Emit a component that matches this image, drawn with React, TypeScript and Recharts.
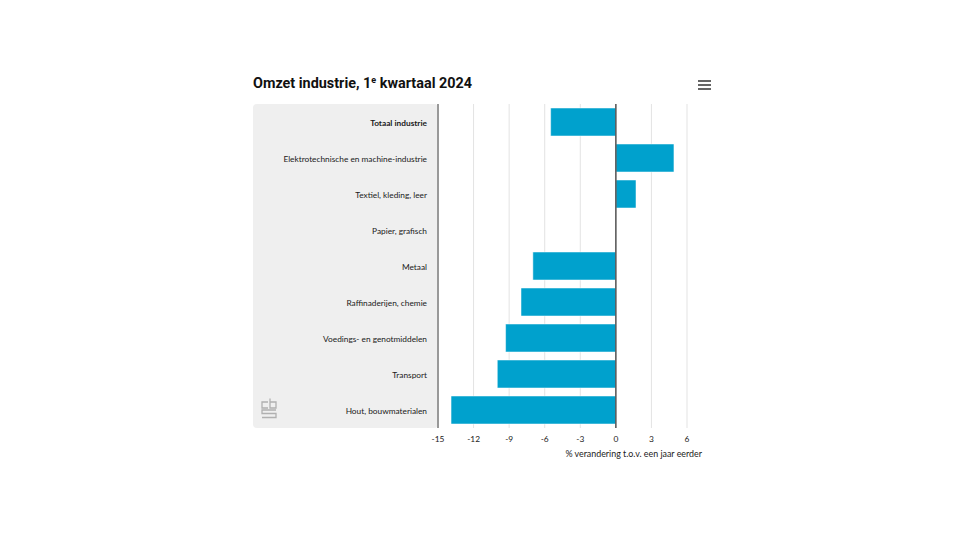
import React from "react";
import { BarChart, Bar, XAxis, YAxis, CartesianGrid, ReferenceLine } from "recharts";

const categories = [
  "Totaal industrie",
  "Elektrotechnische en machine-industrie",
  "Textiel, kleding, leer",
  "Papier, grafisch",
  "Metaal",
  "Raffinaderijen, chemie",
  "Voedings- en genotmiddelen",
  "Transport",
  "Hout, bouwmaterialen",
];
const values = [-5.5, 4.9, 1.7, 0.0, -7.0, -8.0, -9.3, -10.0, -13.9];
const xTicks = [-15, -12, -9, -6, -3, 0, 3, 6];
const title = "Omzet industrie, 1";
const titleSup = "e";
const titleRest = " kwartaal 2024";
const xLabel = "% verandering t.o.v. een jaar eerder";

const data = categories.map((c, i) => ({ name: c, value: values[i] }));

const FONT = "Lato, 'Open Sans', sans-serif";

const YTick = (props: any) => {
  const { x, y, payload } = props;
  const bold = payload.value === categories[0];
  return (
    <text x={x} y={y} dy={3.5} textAnchor="end" fontSize={8.3} fontFamily={FONT}
      fill="#1a1a1a" fontWeight={bold ? 700 : 400}>
      {payload.value}
    </text>
  );
};

export default function App() {
  return (
    <div style={{ position: "absolute", left: 0, top: 0, width: 960, height: 540, background: "#fff", fontFamily: FONT }}>
      <div style={{ position: "absolute", left: 253, top: 104, width: 185, height: 324, background: "#efefef", borderRadius: 4 }} />
      <div style={{ position: "absolute", left: 253, top: 75, fontSize: 14.4, fontWeight: 700, color: "#111", fontFamily: "Roboto, sans-serif", whiteSpace: "nowrap" }}>
        {title}<sup style={{ fontSize: 9, verticalAlign: 5, lineHeight: 0 }}>{titleSup}</sup>{titleRest}
      </div>
      <svg style={{ position: "absolute", left: 698, top: 80 }} width={14} height={10}>
        <rect x={0} y={0} width={13} height={2} fill="#666" />
        <rect x={0} y={4} width={13} height={2} fill="#666" />
        <rect x={0} y={8} width={13} height={2} fill="#666" />
      </svg>
      <svg style={{ position: "absolute", left: 260, top: 397 }} width={18} height={24}>
        <g fill="none" stroke="#b0b0b0" strokeWidth={1.3}>
          <path d="M8 5 H2 V11 H8" />
          <path d="M10 1.5 V11 H16 V5 H10" />
          <path d="M16 13 H2 V16.5 H16 V20.5 H2" />
        </g>
      </svg>
      <div style={{ position: "absolute", left: 0, top: 0 }}>
        <BarChart width={960} height={540} data={data} layout="vertical"
          margin={{ top: 104, right: 273, bottom: 92, left: 253 }} barCategoryGap={4}>
          <CartesianGrid horizontal={false} vertical={true} stroke="#e3e3e3" strokeWidth={1} />
          <XAxis type="number" dataKey="value" domain={[-15, 6]} ticks={xTicks} interval={0}
            axisLine={false} tickLine={false} height={20}
            tick={{ fontSize: 8.4, fill: "#1a1a1a", fontFamily: FONT }} />
          <YAxis type="category" dataKey="name" width={185} tickLine={false} tickMargin={5}
            axisLine={{ stroke: "#999", strokeWidth: 2 }} tick={<YTick />} interval={0} />
          <ReferenceLine x={0} stroke="#555" strokeWidth={1.5} />
          <Bar dataKey="value" fill="#00a1cd" stroke="#ffffff" strokeWidth={0.5} isAnimationActive={false} />
        </BarChart>
      </div>
      <div style={{ position: "absolute", left: 482, width: 220, top: 448, textAlign: "right", fontSize: 8.9, color: "#1a1a1a", whiteSpace: "nowrap" }}>
        {xLabel}
      </div>
    </div>
  );
}
